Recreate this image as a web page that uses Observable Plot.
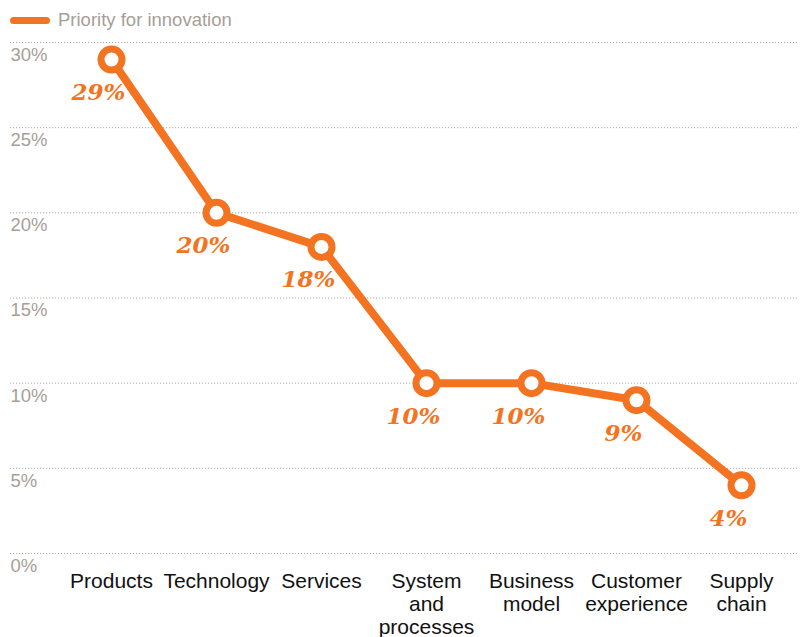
<!DOCTYPE html>
<html>
<head>
<meta charset="utf-8">
<script src="https://cdn.jsdelivr.net/npm/d3@7"></script>
<script src="https://cdn.jsdelivr.net/npm/@observablehq/plot@0.6"></script>
<style>
  body { margin: 0; background: #fff; font-family: "Liberation Sans", Arial, sans-serif; }
  #legend { height: 40px; position: relative; }
  #legend .sw { position: absolute; left: 10px; top: 17px; width: 40px; height: 7px; border-radius: 4px; background: #f47321; }
  #legend .lb { position: absolute; left: 58px; top: 9px; font-size: 18.5px; line-height: 22px; color: #a79e97; }
  svg { display: block; }
</style>
</head>
<body>
<div id="legend"><span class="sw"></span><span class="lb">Priority for innovation</span></div>
<div id="chart"></div>
<script>
const categories = ["Products", "Technology", "Services", "System\nand\nprocesses", "Business\nmodel", "Customer\nexperience", "Supply\nchain"];
const values = [29, 20, 18, 10, 10, 9, 4];
const yTicks = [0, 5, 10, 15, 20, 25, 30];
const yTickLabels = ["0%", "5%", "10%", "15%", "20%", "25%", "30%"];

const data = categories.map((c, i) => ({cat: c, v: values[i]}));
const ticks = yTicks.map((t, i) => ({t, label: yTickLabels[i]}));
const orange = "#f47321";

const chart = Plot.plot({
  width: 803,
  height: 597,
  marginTop: 2,
  marginBottom: 84,
  marginLeft: 10,
  marginRight: 6,
  x: {type: "point", domain: categories, range: [110, 742], padding: 0, axis: null},
  y: {domain: [0, 30], axis: null},
  style: {fontFamily: "'Liberation Sans', Arial, sans-serif", background: "#fff"},
  marks: [
    Plot.ruleY(yTicks, {stroke: "#b3aca6", strokeWidth: 1, strokeDasharray: "1.2,1.8"}),
    Plot.text(ticks, {y: "t", text: "label", frameAnchor: "left", textAnchor: "start", dy: 12.5, fontSize: 18.5, fill: "#a79e97"}),
    Plot.line(data, {x: "cat", y: "v", stroke: orange, strokeWidth: 8, strokeLinejoin: "round"}),
    Plot.dot(data, {x: "cat", y: "v", r: 10.5, fill: "white", stroke: orange, strokeWidth: 7}),
    Plot.text(data, {x: "cat", y: "v", text: d => d.v + "%", dx: -13, dy: 33, fill: orange, fontSize: 23, fontWeight: "bold", fontStyle: "italic", fontFamily: "'DejaVu Serif', serif"}),
    Plot.text(data, {x: "cat", y: () => 0, text: "cat", lineAnchor: "top", dy: 18, lineHeight: 1.1, fontSize: 21, fill: "#111"})
  ]
});
document.getElementById("chart").appendChild(chart);
</script>
</body>
</html>
